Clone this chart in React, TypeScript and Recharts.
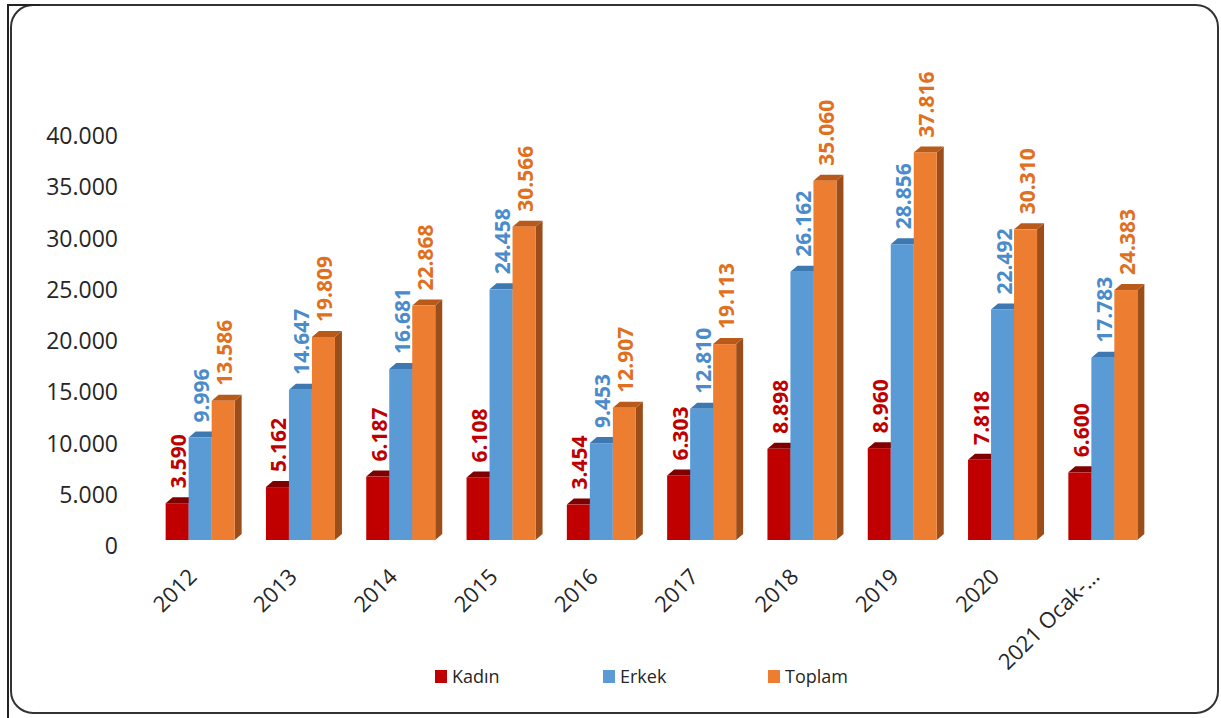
import React from 'react';
import { BarChart, Bar, XAxis, YAxis, LabelList } from 'recharts';

// Yearly counts by gender
const years = ['2012', '2013', '2014', '2015', '2016', '2017', '2018', '2019', '2020', '2021 Ocak-…'];
const kadin = [3590, 5162, 6187, 6108, 3454, 6303, 8898, 8960, 7818, 6600];
const erkek = [9996, 14647, 16681, 24458, 9453, 12810, 26162, 28856, 22492, 17783];
const toplam = [13586, 19809, 22868, 30566, 12907, 19113, 35060, 37816, 30310, 24383];
const yTicks = [0, 5000, 10000, 15000, 20000, 25000, 30000, 35000, 40000];

const data = years.map((year, i) => ({
  year,
  kadin: kadin[i],
  erkek: erkek[i],
  toplam: toplam[i],
}));

const FONT = '"Open Sans", "DejaVu Sans", sans-serif';
const DX = 7;
const DY = 6;

const formatTr = (v: number) => String(Math.round(v)).replace(/\B(?=(\d{3})+(?!\d))/g, '.');

// Bar with a shallow 3D top and side face
const makeShape = (front: string, top: string, side: string) => (props: any) => {
  const { x, y, width, height } = props;
  if (width == null || height == null) return null;
  const topFace = `M${x},${y} L${x + DX},${y - DY} L${x + width + DX},${y - DY} L${x + width},${y} Z`;
  const sideFace = `M${x + width},${y} L${x + width + DX},${y - DY} L${x + width + DX},${y + height - DY} L${x + width},${y + height} Z`;
  return (
    <g>
      <path d={sideFace} fill={side} />
      <path d={topFace} fill={top} />
      <rect x={x} y={y} width={width} height={height} fill={front} />
    </g>
  );
};

const makeLabel = (color: string) => (props: any) => {
  const { x, y, width, value } = props;
  const lx = x + width / 2 + 1;
  const ly = y - 15;
  return (
    <text
      x={lx}
      y={ly}
      transform={`rotate(-90, ${lx}, ${ly})`}
      textAnchor="start"
      dominantBaseline="central"
      fill={color}
      fontFamily={FONT}
      fontWeight={700}
      fontSize={21}
    >
      {formatTr(value)}
    </text>
  );
};

const YTick = (props: any) => {
  const { x, y, payload } = props;
  return (
    <text x={x} y={y + 5} textAnchor="end" dominantBaseline="central" fill="#262626" fontFamily={FONT} fontSize={23}>
      {formatTr(payload.value)}
    </text>
  );
};

const XTick = (props: any) => {
  const { x, y, payload } = props;
  const tx = x - 2;
  const ty = y + 30;
  return (
    <text
      x={tx}
      y={ty}
      transform={`rotate(-45, ${tx}, ${ty})`}
      textAnchor="end"
      fill="#262626"
      fontFamily={FONT}
      fontSize={22}
    >
      {payload.value}
    </text>
  );
};

const legendItems = [
  { name: 'Kadın', color: '#C00000', left: 435 },
  { name: 'Erkek', color: '#5B9BD5', left: 603 },
  { name: 'Toplam', color: '#ED7D31', left: 768 },
];

export default function App() {
  return (
    <div style={{ position: 'absolute', left: 0, top: 0, width: 1221, height: 718, background: '#fff', overflow: 'hidden' }}>
      <svg width={1221} height={718} style={{ position: 'absolute', left: 0, top: 0 }}>
        <rect x={11} y={5} width={1207} height={708} rx={22} ry={22} fill="none" stroke="#333" strokeWidth={2} />
        <line x1={8} y1={4} x2={8} y2={718} stroke="#222" strokeWidth={2} />
        <line x1={8} y1={5} x2={40} y2={5} stroke="#222" strokeWidth={2} />
      </svg>
      <div style={{ position: 'absolute', left: 0, top: 0 }}>
        <BarChart
          width={1221}
          height={718}
          data={data}
          margin={{ top: 130, right: 68, bottom: 0, left: 0 }}
          barCategoryGap="15.6%"
          barGap={0}
        >
          <YAxis
            type="number"
            domain={[0, 40000]}
            ticks={yTicks}
            width={150}
            axisLine={false}
            tickLine={false}
            tickSize={0}
            tickMargin={32}
            tick={<YTick />}
            interval={0}
          />
          <XAxis
            dataKey="year"
            height={178}
            axisLine={false}
            tickLine={false}
            interval={0}
            tick={<XTick />}
          />
          <Bar dataKey="kadin" name="Kadın" fill="#C00000" isAnimationActive={false} shape={makeShape('#C00000', '#7F0000', '#7F0000')}>
            <LabelList dataKey="kadin" content={makeLabel('#C00000')} />
          </Bar>
          <Bar dataKey="erkek" name="Erkek" fill="#5B9BD5" isAnimationActive={false} shape={makeShape('#5B9BD5', '#3D78B0', '#3D78B0')}>
            <LabelList dataKey="erkek" content={makeLabel('#4A8CCB')} />
          </Bar>
          <Bar dataKey="toplam" name="Toplam" fill="#ED7D31" isAnimationActive={false} shape={makeShape('#ED7D31', '#B85A1A', '#9C4E1A')}>
            <LabelList dataKey="toplam" content={makeLabel('#E0701E')} />
          </Bar>
        </BarChart>
      </div>
      {legendItems.map((it) => (
        <div
          key={it.name}
          style={{
            position: 'absolute',
            left: it.left,
            top: 664,
            height: 24,
            display: 'flex',
            alignItems: 'center',
            fontFamily: FONT,
            fontSize: 18,
            color: '#262626',
          }}
        >
          <span style={{ display: 'inline-block', width: 12, height: 13, background: it.color, marginRight: 5 }} />
          {it.name}
        </div>
      ))}
    </div>
  );
}
